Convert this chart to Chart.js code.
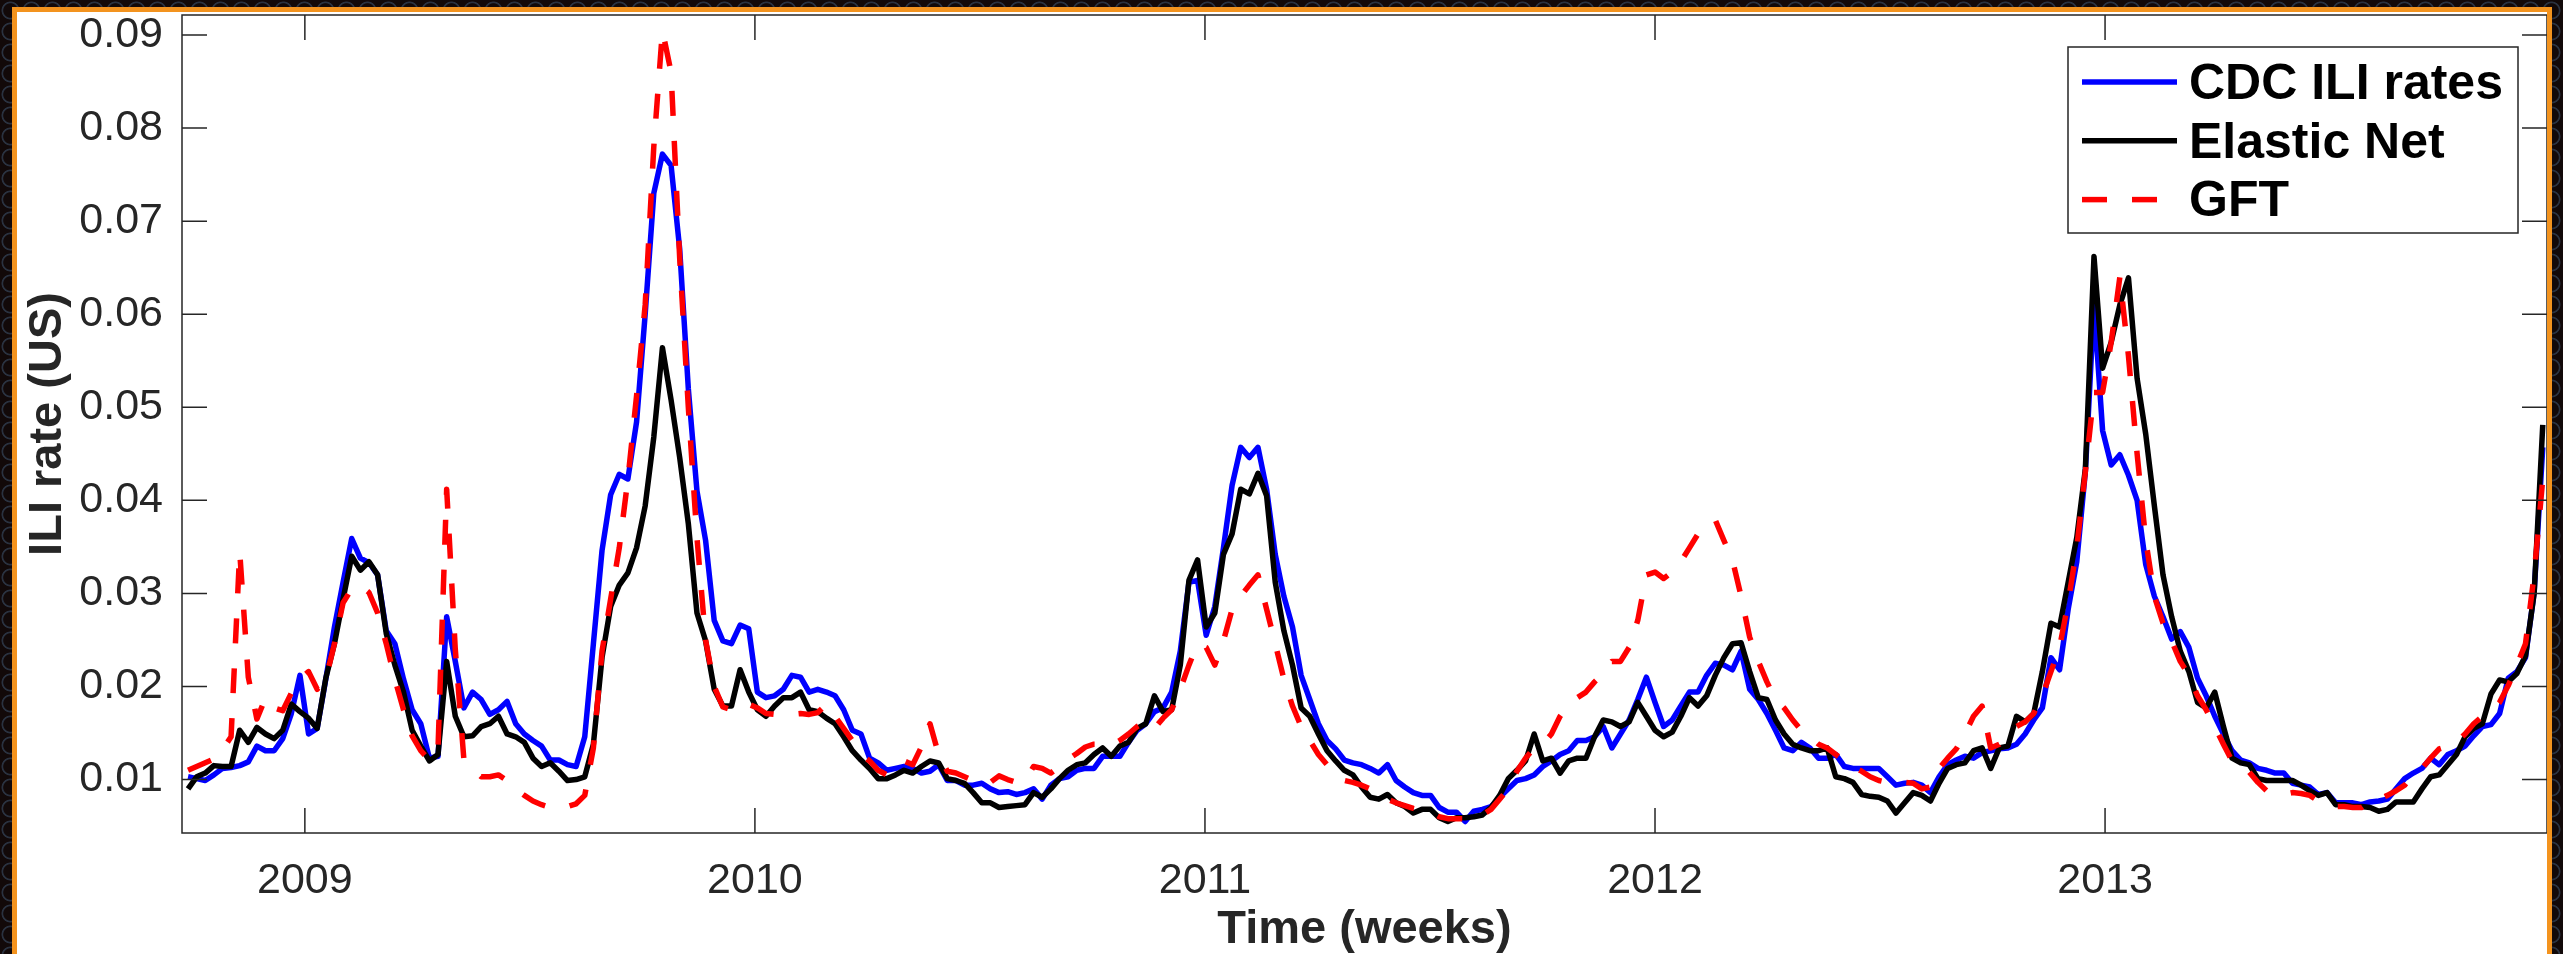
<!DOCTYPE html>
<html>
<head>
<meta charset="utf-8">
<title>ILI rate (US)</title>
<script src="https://cdn.jsdelivr.net/npm/chart.js@4.4.1/dist/chart.umd.min.js"></script>
<style>
  html, body { margin: 0; padding: 0; width: 2563px; height: 954px; overflow: hidden; }
  body {
    background-color: #120909;
    background-image: radial-gradient(circle at 50% 50%, rgba(0,0,0,0) 46%, #2a3240 52%, #2a3240 58%, rgba(0,0,0,0) 63%);
    background-size: 21px 21px;
  }
  #frame {
    position: absolute; left: 12px; top: 7px;
    width: 2530px; height: 942px;
    border: 5px solid #f3931e; border-bottom: none;
    background: #ffffff;
  }
  canvas { display: block; }
</style>
</head>
<body>
<div id="frame"><canvas id="chart" width="2530" height="942"></canvas></div>
<script>
// Weekly series, first week starting 2008-09-28
const firstWeek = Date.UTC(2008, 8, 28);

const cdcIli = [
  0.0103, 0.0101, 0.0099, 0.0105, 0.0112, 0.0113, 0.0115, 0.0119, 0.0136, 0.0131,
  0.0131, 0.0144, 0.0171, 0.0212, 0.0149, 0.0155, 0.0208, 0.0264, 0.0312, 0.0359,
  0.0338, 0.0333, 0.0320, 0.0260, 0.0246, 0.0208, 0.0175, 0.0160, 0.0123, 0.0125,
  0.0275, 0.0227, 0.0177, 0.0194, 0.0186, 0.0170, 0.0175, 0.0184, 0.0160, 0.0149,
  0.0142, 0.0136, 0.0121, 0.0121, 0.0116, 0.0114, 0.0146, 0.0246, 0.0346, 0.0406,
  0.0428, 0.0423, 0.0484, 0.0600, 0.0730, 0.0772, 0.0760, 0.0670, 0.0520, 0.0410,
  0.0357, 0.0271, 0.0249, 0.0246, 0.0266, 0.0262, 0.0194, 0.0188, 0.0190, 0.0197,
  0.0212, 0.0210, 0.0194, 0.0197, 0.0194, 0.0190, 0.0175, 0.0153, 0.0149, 0.0123,
  0.0118, 0.0110, 0.0112, 0.0114, 0.0112, 0.0107, 0.0109, 0.0116, 0.0099, 0.0099,
  0.0094, 0.0094, 0.0096, 0.0090, 0.0086, 0.0087, 0.0084, 0.0086, 0.0090, 0.0079,
  0.0094, 0.0101, 0.0103, 0.0110, 0.0112, 0.0112, 0.0125, 0.0125, 0.0125, 0.0140,
  0.0153, 0.0160, 0.0173, 0.0177, 0.0194, 0.0238, 0.0312, 0.0314, 0.0255, 0.0286,
  0.0349, 0.0416, 0.0457, 0.0446, 0.0457, 0.0412, 0.0342, 0.0297, 0.0264, 0.0212,
  0.0186, 0.0160, 0.0142, 0.0133, 0.0121, 0.0118, 0.0116, 0.0112, 0.0107, 0.0116,
  0.0099, 0.0092, 0.0086, 0.0083, 0.0083, 0.0070, 0.0065, 0.0065, 0.0055, 0.0066,
  0.0068, 0.0071, 0.0081, 0.0090, 0.0099, 0.0101, 0.0105, 0.0114, 0.0120, 0.0127,
  0.0131, 0.0142, 0.0142, 0.0146, 0.0157, 0.0134, 0.0149, 0.0164, 0.0186, 0.0210,
  0.0183, 0.0157, 0.0164, 0.0179, 0.0194, 0.0194, 0.0212, 0.0225, 0.0223, 0.0218,
  0.0238, 0.0197, 0.0186, 0.0171, 0.0153, 0.0134, 0.0131, 0.0140, 0.0134, 0.0123,
  0.0123, 0.0127, 0.0114, 0.0112, 0.0112, 0.0112, 0.0112, 0.0103, 0.0094, 0.0096,
  0.0097, 0.0094, 0.0086, 0.0103, 0.0116, 0.0121, 0.0125, 0.0123, 0.0129, 0.0131,
  0.0133, 0.0134, 0.0138, 0.0149, 0.0164, 0.0177, 0.0231, 0.0218, 0.0283, 0.0334,
  0.0431, 0.0610, 0.0475, 0.0438, 0.0449, 0.0427, 0.0400, 0.0331, 0.0297, 0.0275,
  0.0251, 0.0259, 0.0242, 0.0209, 0.0190, 0.0168, 0.0149, 0.0131, 0.0121, 0.0118,
  0.0112, 0.0110, 0.0107, 0.0107, 0.0096, 0.0094, 0.0092, 0.0084, 0.0086, 0.0075,
  0.0075, 0.0075, 0.0073, 0.0076, 0.0077, 0.0079, 0.0090, 0.0101, 0.0107, 0.0112,
  0.0123, 0.0116, 0.0127, 0.0131, 0.0136, 0.0147, 0.0157, 0.0159, 0.0171, 0.0209,
  0.0216, 0.0231, 0.0301, 0.0457
];

const elasticNet = [
  0.0090, 0.0103, 0.0107, 0.0115, 0.0114, 0.0114, 0.0153, 0.0140, 0.0156, 0.0149,
  0.0144, 0.0153, 0.0181, 0.0173, 0.0166, 0.0155, 0.0209, 0.0246, 0.0294, 0.0340,
  0.0325, 0.0334, 0.0320, 0.0257, 0.0223, 0.0194, 0.0153, 0.0136, 0.0120, 0.0127,
  0.0227, 0.0168, 0.0146, 0.0147, 0.0157, 0.0160, 0.0168, 0.0149, 0.0146, 0.0140,
  0.0123, 0.0114, 0.0118, 0.0109, 0.0099, 0.0100, 0.0103, 0.0138, 0.0231, 0.0286,
  0.0309, 0.0322, 0.0349, 0.0394, 0.0468, 0.0564, 0.0508, 0.0446, 0.0375, 0.0279,
  0.0249, 0.0197, 0.0179, 0.0179, 0.0218, 0.0194, 0.0175, 0.0168, 0.0179, 0.0188,
  0.0188, 0.0194, 0.0175, 0.0173, 0.0166, 0.0160, 0.0146, 0.0131, 0.0121, 0.0112,
  0.0101, 0.0101, 0.0105, 0.0110, 0.0107, 0.0114, 0.0120, 0.0118, 0.0101, 0.0099,
  0.0096, 0.0086, 0.0075, 0.0075, 0.0070, 0.0071, 0.0072, 0.0073, 0.0086, 0.0081,
  0.0090, 0.0101, 0.0110, 0.0116, 0.0118, 0.0127, 0.0134, 0.0125, 0.0136, 0.0140,
  0.0155, 0.0160, 0.0190, 0.0173, 0.0175, 0.0223, 0.0314, 0.0336, 0.0264, 0.0279,
  0.0342, 0.0364, 0.0412, 0.0407, 0.0429, 0.0405, 0.0312, 0.0260, 0.0223, 0.0177,
  0.0168, 0.0149, 0.0131, 0.0120, 0.0110, 0.0105, 0.0092, 0.0081, 0.0079, 0.0084,
  0.0075, 0.0071, 0.0064, 0.0068, 0.0068, 0.0059, 0.0055, 0.0059, 0.0059, 0.0060,
  0.0062, 0.0070, 0.0083, 0.0101, 0.0110, 0.0120, 0.0149, 0.0120, 0.0123, 0.0107,
  0.0120, 0.0123, 0.0123, 0.0146, 0.0164, 0.0162, 0.0157, 0.0162, 0.0183, 0.0168,
  0.0153, 0.0146, 0.0151, 0.0168, 0.0188, 0.0179, 0.0190, 0.0212, 0.0231, 0.0246,
  0.0247, 0.0216, 0.0188, 0.0186, 0.0164, 0.0149, 0.0138, 0.0134, 0.0131, 0.0131,
  0.0134, 0.0103, 0.0101, 0.0097, 0.0084, 0.0082, 0.0081, 0.0077, 0.0064, 0.0075,
  0.0086, 0.0083, 0.0077, 0.0096, 0.0112, 0.0116, 0.0118, 0.0131, 0.0134, 0.0112,
  0.0134, 0.0136, 0.0168, 0.0162, 0.0171, 0.0216, 0.0268, 0.0264, 0.0312, 0.0360,
  0.0434, 0.0662, 0.0542, 0.0570, 0.0610, 0.0639, 0.0531, 0.0471, 0.0394, 0.0320,
  0.0275, 0.0238, 0.0216, 0.0183, 0.0177, 0.0194, 0.0157, 0.0123, 0.0118, 0.0116,
  0.0101, 0.0099, 0.0099, 0.0099, 0.0099, 0.0094, 0.0088, 0.0083, 0.0086, 0.0073,
  0.0073, 0.0071, 0.0071, 0.0070, 0.0066, 0.0068, 0.0076, 0.0076, 0.0076, 0.0090,
  0.0103, 0.0105, 0.0116, 0.0127, 0.0146, 0.0155, 0.0160, 0.0192, 0.0207, 0.0205,
  0.0214, 0.0233, 0.0300, 0.0481
];

const gft = [
  0.0110, 0.0114, 0.0118, 0.0122, 0.0132, 0.0146, 0.0345, 0.0210, 0.0165, 0.0188,
  0.0177, 0.0174, 0.0193, 0.0208, 0.0216, 0.0197, 0.0208, 0.0246, 0.0290, 0.0305,
  0.0309, 0.0301, 0.0279, 0.0246, 0.0208, 0.0175, 0.0147, 0.0131, 0.0121, 0.0134,
  0.0412, 0.0240, 0.0121, 0.0112, 0.0103, 0.0103, 0.0105, 0.0099, 0.0090, 0.0083,
  0.0077, 0.0073, 0.0070, 0.0069, 0.0071, 0.0074, 0.0083, 0.0134, 0.0238, 0.0294,
  0.0349, 0.0423, 0.0512, 0.0610, 0.0780, 0.0905, 0.0860, 0.0660, 0.0500, 0.0360,
  0.0250, 0.0200, 0.0178, 0.0175, 0.0175, 0.0181, 0.0177, 0.0171, 0.0170, 0.0170,
  0.0170, 0.0171, 0.0170, 0.0172, 0.0181, 0.0168, 0.0155, 0.0142, 0.0127, 0.0120,
  0.0110, 0.0105, 0.0110, 0.0120, 0.0116, 0.0135, 0.0160, 0.0127, 0.0109, 0.0107,
  0.0103, 0.0099, 0.0095, 0.0097, 0.0104, 0.0100, 0.0097, 0.0099, 0.0114, 0.0112,
  0.0107, 0.0114, 0.0122, 0.0128, 0.0135, 0.0138, 0.0138, 0.0137, 0.0142, 0.0149,
  0.0157, 0.0162, 0.0155, 0.0166, 0.0175, 0.0197, 0.0223, 0.0246, 0.0242, 0.0223,
  0.0249, 0.0283, 0.0297, 0.0309, 0.0320, 0.0283, 0.0246, 0.0208, 0.0179, 0.0157,
  0.0142, 0.0127, 0.0116, 0.0105, 0.0099, 0.0097, 0.0094, 0.0090, 0.0083, 0.0079,
  0.0075, 0.0072, 0.0069, 0.0067, 0.0065, 0.0060, 0.0058, 0.0058, 0.0058, 0.0060,
  0.0062, 0.0068, 0.0079, 0.0090, 0.0109, 0.0123, 0.0134, 0.0138, 0.0149, 0.0168,
  0.0181, 0.0188, 0.0194, 0.0205, 0.0214, 0.0227, 0.0227, 0.0242, 0.0271, 0.0320,
  0.0323, 0.0316, 0.0323, 0.0334, 0.0349, 0.0364, 0.0371, 0.0379, 0.0357, 0.0336,
  0.0297, 0.0253, 0.0227, 0.0205, 0.0186, 0.0177, 0.0164, 0.0153, 0.0146, 0.0138,
  0.0134, 0.0127, 0.0120, 0.0114, 0.0109, 0.0103, 0.0099, 0.0097, 0.0096, 0.0097,
  0.0096, 0.0090, 0.0092, 0.0112, 0.0123, 0.0133, 0.0149, 0.0168, 0.0179, 0.0134,
  0.0138, 0.0149, 0.0157, 0.0162, 0.0171, 0.0190, 0.0216, 0.0242, 0.0290, 0.0349,
  0.0431, 0.0516, 0.0516, 0.0570, 0.0640, 0.0555, 0.0450, 0.0357, 0.0297, 0.0268,
  0.0249, 0.0227, 0.0212, 0.0190, 0.0175, 0.0157, 0.0138, 0.0120, 0.0112, 0.0108,
  0.0097, 0.0088, 0.0086, 0.0084, 0.0086, 0.0085, 0.0083, 0.0077, 0.0073, 0.0071,
  0.0071, 0.0070, 0.0070, 0.0077, 0.0079, 0.0083, 0.0088, 0.0094, 0.0105, 0.0112,
  0.0123, 0.0133, 0.0136, 0.0140, 0.0149, 0.0160, 0.0168, 0.0173, 0.0183, 0.0201,
  0.0223, 0.0246, 0.0320, 0.0423
];

const yearTicks = [2009, 2010, 2011, 2012, 2013];
const rateTicks = [0.01, 0.02, 0.03, 0.04, 0.05, 0.06, 0.07, 0.08, 0.09];

// ---- helpers -------------------------------------------------------------
const FONT = '"Liberation Sans", Arial, Helvetica, sans-serif';
const AXIS_COLOR = '#262626';
const TICK_LEN = 25;

function decimalYear(t) {
  const y = new Date(t).getUTCFullYear();
  const s = Date.UTC(y, 0, 1), e = Date.UTC(y + 1, 0, 1);
  return y + (t - s) / (e - s);
}
const weekX = cdcIli.map((_, i) => decimalYear(firstWeek + i * 7 * 86400000));
const toPoints = (vals) => vals.map((v, i) => ({ x: weekX[i], y: v }));

// Box around the axes with inward tick marks on all four sides
const axesBox = {
  id: 'axesBox',
  afterDatasetsDraw(chart) {
    const { ctx, chartArea: a, scales: { x, y } } = chart;
    ctx.save();
    ctx.strokeStyle = AXIS_COLOR;
    ctx.lineWidth = 1.5;
    ctx.setLineDash([]);
    ctx.strokeRect(a.left, a.top, a.right - a.left, a.bottom - a.top);
    ctx.beginPath();
    rateTicks.forEach((v) => {
      const p = y.getPixelForValue(v);
      ctx.moveTo(a.left, p); ctx.lineTo(a.left + TICK_LEN, p);
      ctx.moveTo(a.right, p); ctx.lineTo(a.right - TICK_LEN, p);
    });
    yearTicks.forEach((v) => {
      const p = x.getPixelForValue(v);
      ctx.moveTo(p, a.bottom); ctx.lineTo(p, a.bottom - TICK_LEN);
      ctx.moveTo(p, a.top); ctx.lineTo(p, a.top + TICK_LEN);
    });
    ctx.stroke();
    ctx.restore();
  }
};

// Framed legend in the upper right corner of the plot area
const LEGEND = { right: 29, top: 32, width: 450, height: 186, firstRow: 35, rowStep: 58.8,
                 lineStart: 14, lineLen: 95, textStart: 121 };
const boxLegend = {
  id: 'boxLegend',
  afterDraw(chart) {
    const { ctx, chartArea: a } = chart;
    const L = LEGEND;
    const x0 = a.right - L.right - L.width, y0 = a.top + L.top;
    ctx.save();
    ctx.fillStyle = '#ffffff';
    ctx.fillRect(x0, y0, L.width, L.height);
    ctx.strokeStyle = AXIS_COLOR;
    ctx.lineWidth = 1.5;
    ctx.strokeRect(x0, y0, L.width, L.height);
    ctx.font = 'bold 50px ' + FONT;
    ctx.textBaseline = 'middle';
    ctx.textAlign = 'left';
    chart.data.datasets.forEach((ds, k) => {
      const cy = y0 + L.firstRow + k * L.rowStep;
      ctx.beginPath();
      ctx.setLineDash(ds.borderDash || []);
      ctx.lineCap = 'butt';
      ctx.lineWidth = ds.borderWidth;
      ctx.strokeStyle = ds.borderColor;
      ctx.moveTo(x0 + L.lineStart, cy);
      ctx.lineTo(x0 + L.lineStart + L.lineLen, cy);
      ctx.stroke();
      ctx.setLineDash([]);
      ctx.fillStyle = '#000000';
      ctx.fillText(ds.label, x0 + L.textStart, cy + 3);
    });
    ctx.restore();
  }
};

Chart.defaults.font.family = FONT;

new Chart(document.getElementById('chart'), {
  type: 'line',
  data: {
    datasets: [
      { label: 'CDC ILI rates', data: toPoints(cdcIli), borderColor: '#0000ff', borderWidth: 5.5, order: 3 },
      { label: 'Elastic Net', data: toPoints(elasticNet), borderColor: '#000000', borderWidth: 5.5, order: 2 },
      { label: 'GFT', data: toPoints(gft), borderColor: '#ff0000', borderWidth: 5.5, borderDash: [25, 25], order: 1 }
    ]
  },
  options: {
    responsive: false,
    animation: false,
    devicePixelRatio: 1,
    elements: {
      point: { radius: 0, hoverRadius: 0 },
      line: { tension: 0, fill: false, borderJoinStyle: 'round', borderCapStyle: 'butt' }
    },
    layout: { padding: { top: 3, left: 0, right: 0, bottom: 0 } },
    plugins: { legend: { display: false }, tooltip: { enabled: false } },
    events: [],
    scales: {
      x: {
        type: 'linear',
        min: 2008.727,
        max: 2013.982,
        grid: { display: false, drawTicks: false },
        border: { display: false },
        afterBuildTicks: (s) => { s.ticks = yearTicks.map((v) => ({ value: v })); },
        ticks: {
          padding: 22, autoSkip: false, maxRotation: 0,
          color: AXIS_COLOR, font: { size: 43 },
          callback: (v) => String(v)
        },
        title: {
          display: true, text: 'Time (weeks)', color: AXIS_COLOR,
          font: { size: 47, weight: 'bold', lineHeight: 1 }, padding: { top: 0, bottom: 0 }
        },
        afterFit: (s) => { s.height = 121; s.paddingLeft = 0; s.paddingRight = 0; }
      },
      y: {
        type: 'linear',
        min: 0.00426,
        max: 0.09215,
        grid: { display: false, drawTicks: false },
        border: { display: false },
        afterBuildTicks: (s) => { s.ticks = rateTicks.map((v) => ({ value: v })); },
        ticks: {
          padding: 19, autoSkip: false,
          color: AXIS_COLOR, font: { size: 43 },
          callback: (v) => Number(v).toFixed(2)
        },
        title: {
          display: true, text: 'ILI rate (US)', color: AXIS_COLOR,
          font: { size: 47, weight: 'bold', lineHeight: 1 }, padding: { top: 8, bottom: 0 }
        },
        afterFit: (s) => { s.width = 165; s.paddingTop = 0; s.paddingBottom = 0; }
      }
    }
  },
  plugins: [axesBox, boxLegend]
});
</script>
</body>
</html>
